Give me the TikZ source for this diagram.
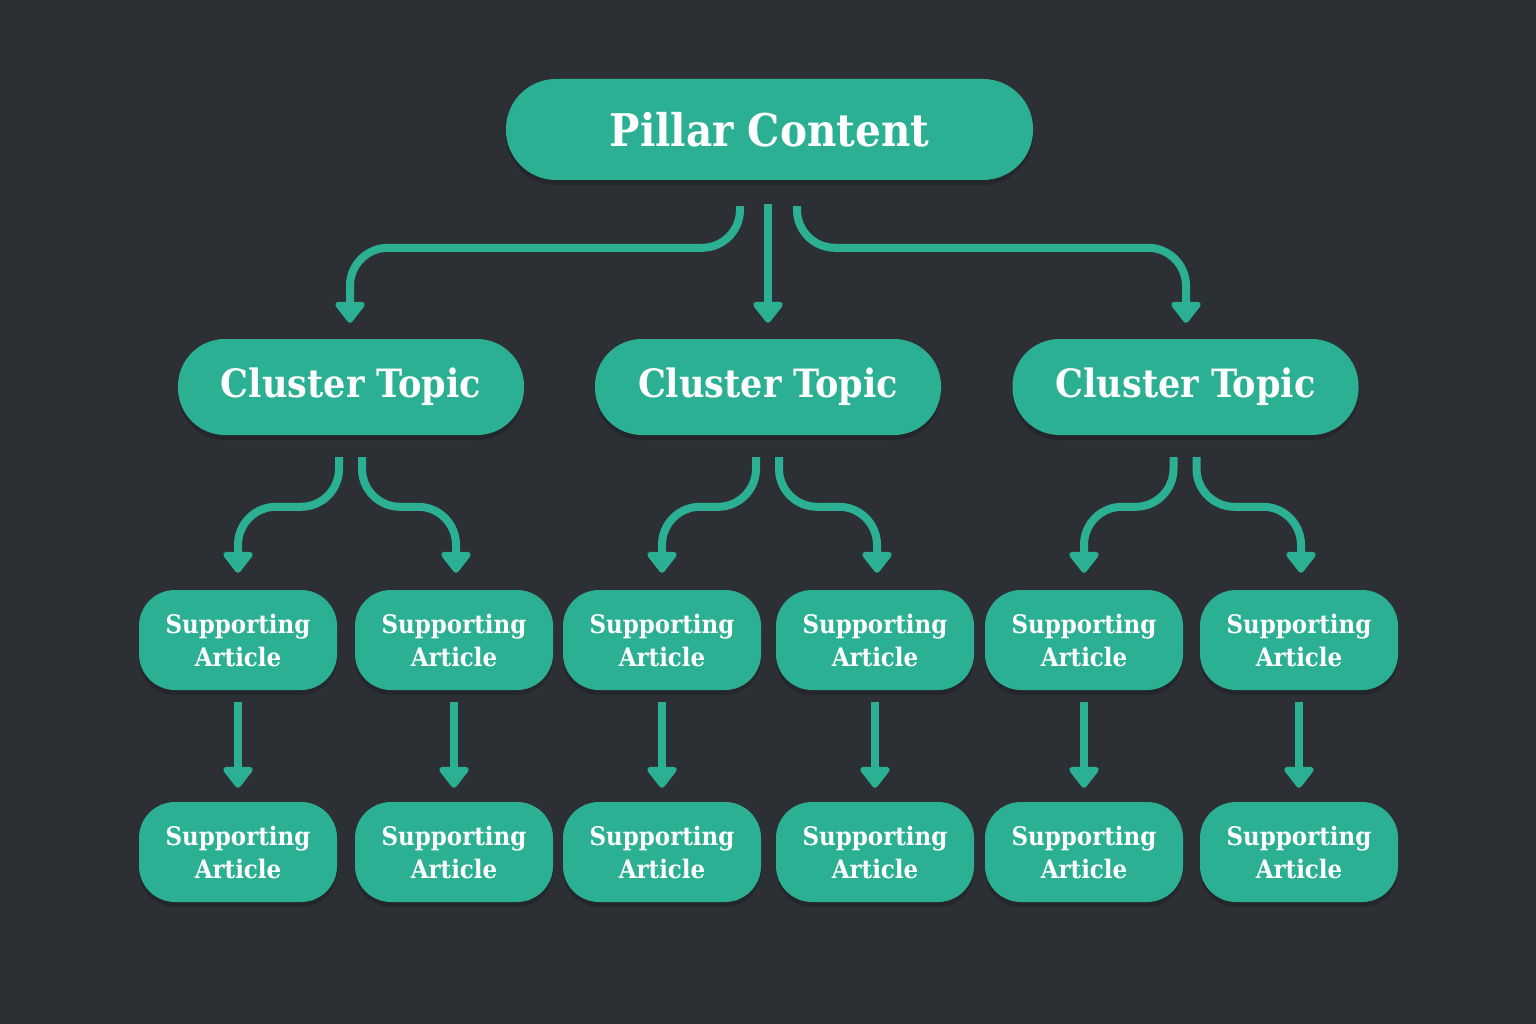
\documentclass[tikz,border=0pt]{standalone}
\usepackage{fontspec}
\setmainfont{DejaVu Serif Condensed}
\usetikzlibrary{arrows.meta,shadows,calc}
\definecolor{bgc}{HTML}{2C3035}
\definecolor{teal}{HTML}{2BB093}
\tikzset{
  box/.style={fill=teal, text=white, font=\bfseries, align=center, inner sep=0pt,
    drop shadow={shadow xshift=0pt, shadow yshift=-5pt, opacity=0.2, fill=black}},
  pillarbox/.style={box, rounded corners=50pt, minimum width=527pt, minimum height=101pt,
    font=\fontsize{45}{50}\selectfont\bfseries},
  clusterbox/.style={box, rounded corners=47pt, minimum width=346pt, minimum height=96pt,
    font=\fontsize{39}{44}\selectfont\bfseries},
  artbox/.style={box, rounded corners=36pt, minimum width=198pt, minimum height=100pt,
    font=\fontsize{25.5}{33}\selectfont\bfseries},
  conn/.style={draw=teal, line width=8pt, -{Triangle[width=34pt,length=23pt,round]}},
  curvy/.style={conn, rounded corners=38pt},
}
\begin{document}
\begin{tikzpicture}[x=1pt,y=-1pt]
\fill[bgc] (0,0) rectangle (1536,1024);
\useasboundingbox (0,0) rectangle (1536,1024);

\node[pillarbox] (P) at (769.5,129.5) {Pillar Content};
\node[clusterbox] (C1) at (351,387) {Cluster Topic};
\node[clusterbox] (C2) at (768,387) {Cluster Topic};
\node[clusterbox] (C3) at (1185.5,387) {Cluster Topic};

\foreach \i/\x in {1/238,2/454,3/662,4/875,5/1084,6/1299}{
  \node[artbox] (A\i) at (\x,640) {Supporting\\Article};
  \node[artbox] (B\i) at (\x,852) {Supporting\\Article};
}

% pillar to clusters
\draw[conn] ($(P.south)+(-1.5,24)$) -- ($(C2.north)+(0,-16)$);
\draw[curvy] ($(P.south)+(-29.5,26)$) |- ($(C1.north)+(-1,-91)$) -- ($(C1.north)+(-1,-16)$);
\draw[curvy] ($(P.south)+(27.5,26)$) |- ($(C3.north)+(0.5,-91)$) -- ($(C3.north)+(0.5,-16)$);

% clusters to articles
\foreach \c/\l/\r in {1/1/2,2/3/4,3/5/6}{
  \draw[curvy] ($(C\c.south)+(-12,22)$) |- ($(A\l.north)+(0,-83)$) -- ($(A\l.north)+(0,-17)$);
  \draw[curvy] ($(C\c.south)+(11,22)$) |- ($(A\r.north)+(2,-83)$) -- ($(A\r.north)+(2,-17)$);
}

% articles to articles
\foreach \i in {1,...,6}{
  \draw[conn] ($(A\i.south)+(0,12)$) -- ($(B\i.north)+(0,-14)$);
}
\end{tikzpicture}
\end{document}
